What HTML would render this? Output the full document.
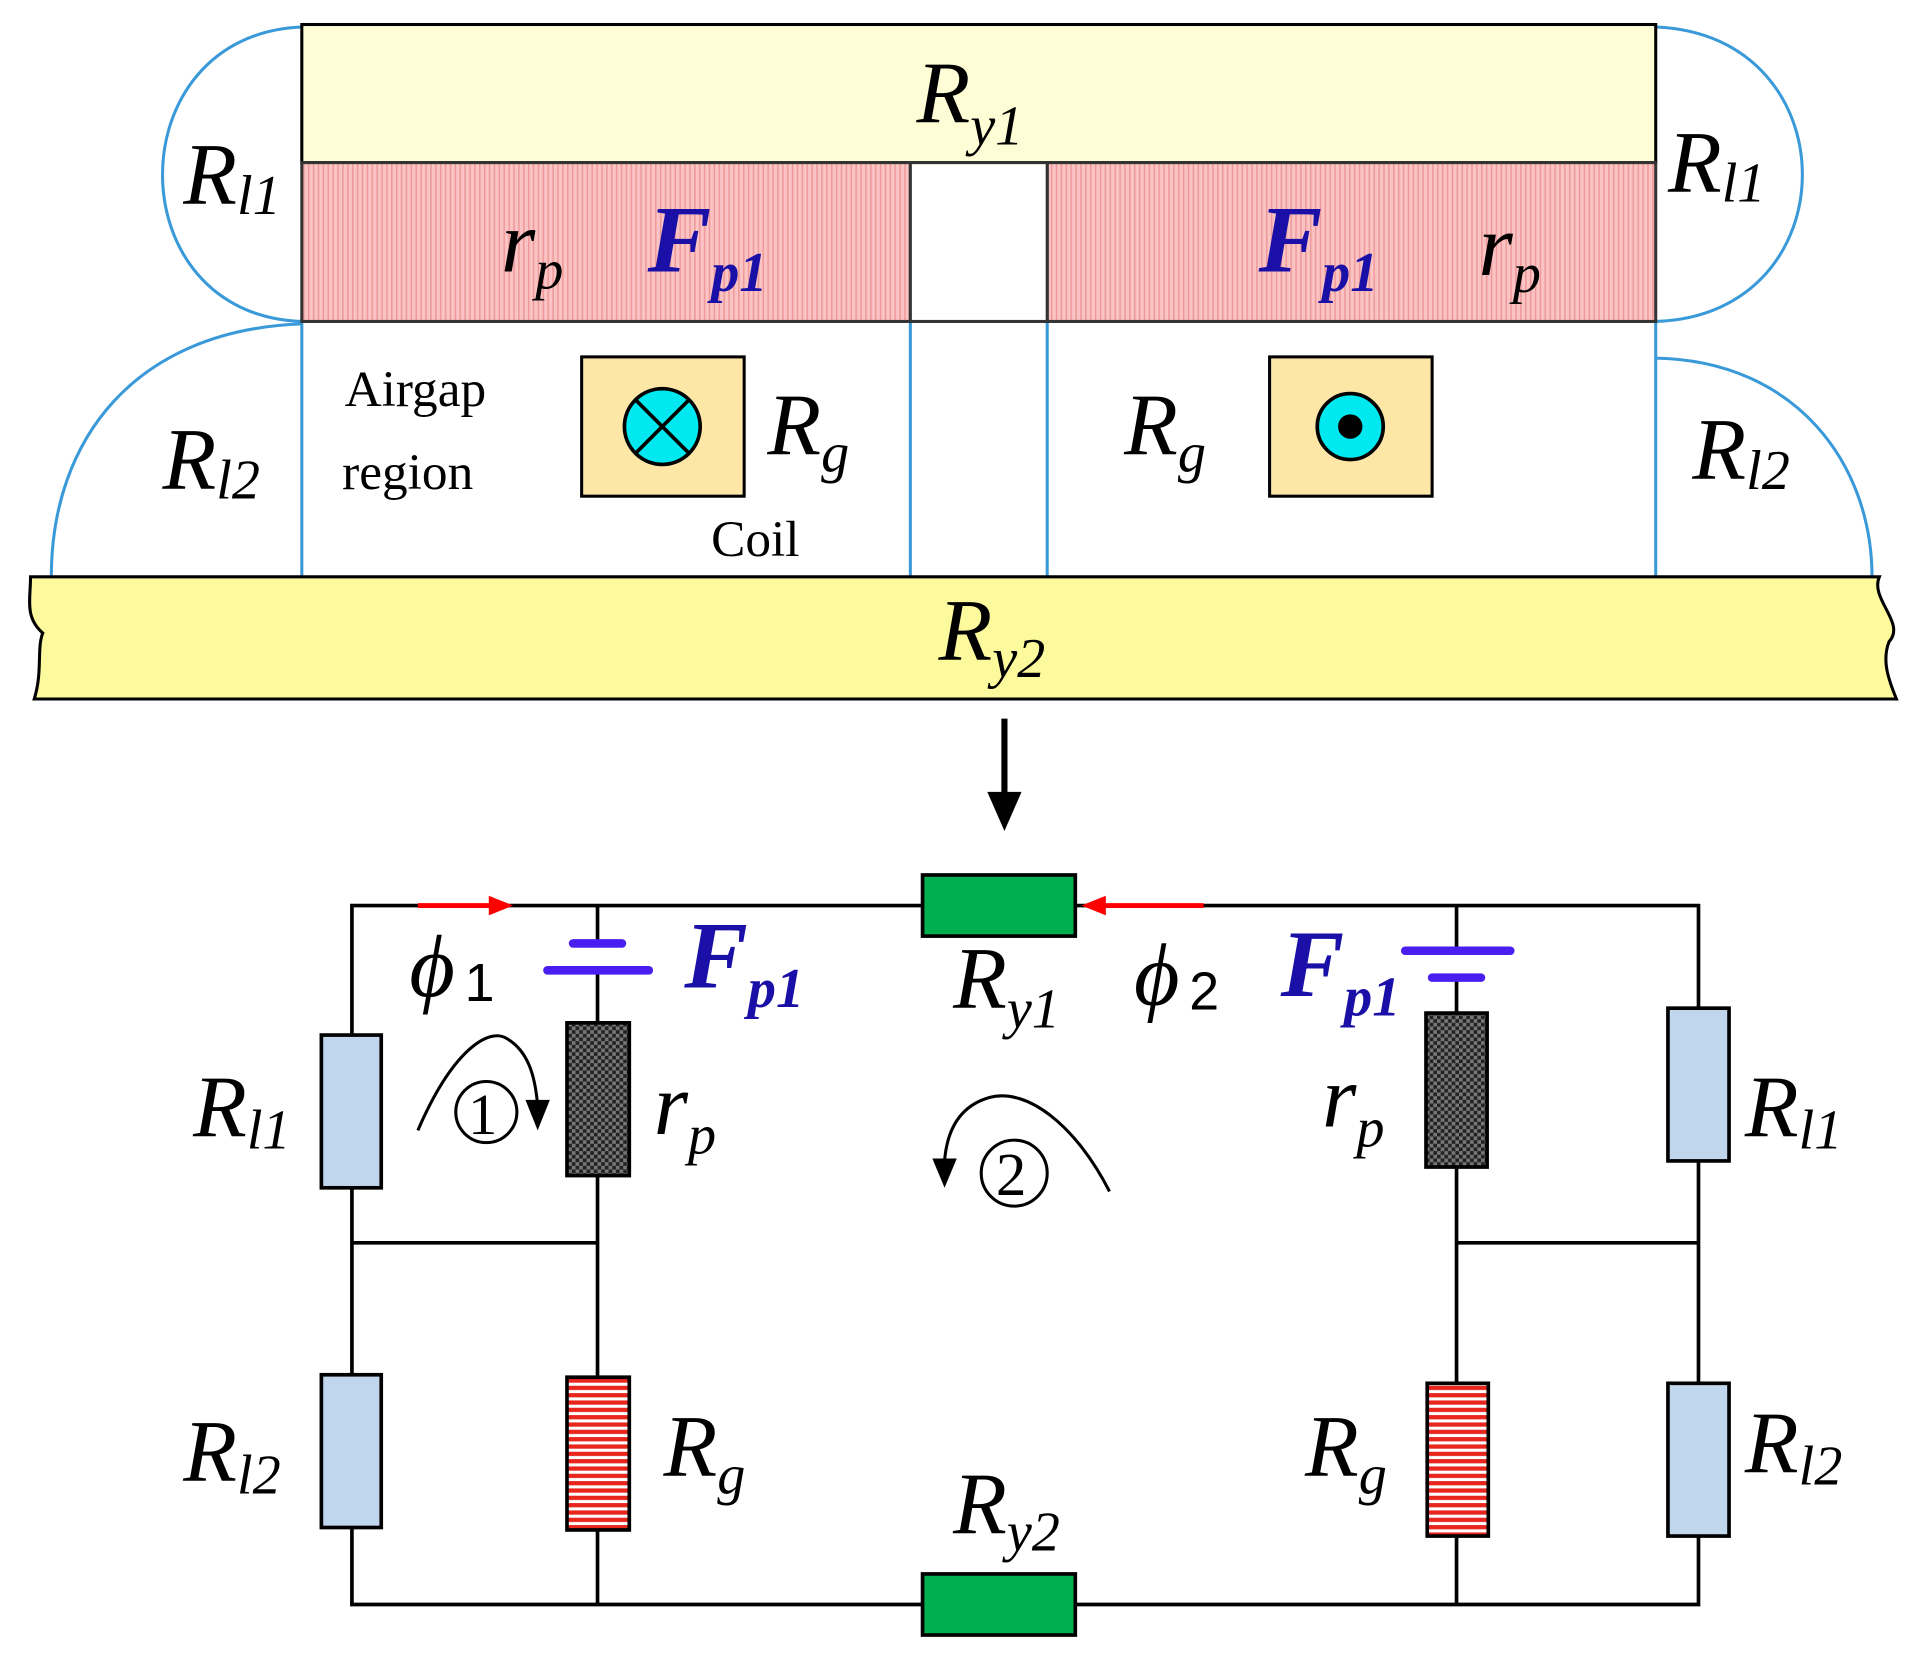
<!DOCTYPE html>
<html><head><meta charset="utf-8"><style>
html,body{margin:0;padding:0;background:#fff;}
svg{display:block;}
text{font-family:"Liberation Serif",serif;}
.L{font-style:italic;font-size:72px;fill:#000;}
.s{font-size:46px;}
.B{font-style:italic;font-weight:bold;font-size:78px;fill:#1a10a8;}
</style></head><body>
<svg width="1916" height="1662" viewBox="0 0 1568 1360" xmlns="http://www.w3.org/2000/svg">
<defs>
<pattern id="pink" width="4" height="4" patternUnits="userSpaceOnUse"><rect width="4" height="4" fill="#fbc4c4"/><rect width="1.3" height="4" fill="#ef9a9a"/></pattern>
<pattern id="chk" width="6" height="6" patternUnits="userSpaceOnUse"><rect width="6" height="6" fill="#222"/><rect width="3" height="3" fill="#777"/><rect x="3" y="3" width="3" height="3" fill="#777"/></pattern>
<pattern id="red" width="6" height="6" patternUnits="userSpaceOnUse"><rect width="6" height="6" fill="#fff"/><rect width="6" height="3.5" fill="#e8261e"/></pattern>
</defs>
<g fill="none" stroke="#3a9ad9" stroke-width="2.5">
<path d="M247,22 C95,28 95,258 247,263"/>
<path d="M1355,22 C1515,28 1515,258 1355,263"/>
<path d="M247,265 C110,270 42,360 42,472"/>
<path d="M1355,293 C1470,295 1532,380 1532,472"/>
<line x1="247" y1="263" x2="247" y2="472"/><line x1="745" y1="263" x2="745" y2="472"/>
<line x1="857" y1="263" x2="857" y2="472"/><line x1="1355" y1="263" x2="1355" y2="472"/>
</g>
<rect x="247" y="20" width="1108" height="113" fill="#fefdd6" stroke="#000" stroke-width="2.5"/>
<rect x="247" y="133" width="498" height="130" fill="url(#pink)" stroke="#333" stroke-width="2.5"/>
<rect x="857" y="133" width="498" height="130" fill="url(#pink)" stroke="#333" stroke-width="2.5"/>
<rect x="745" y="133" width="112" height="130" fill="#fff" stroke="#333" stroke-width="2.5"/>
<rect x="476" y="292" width="133" height="114" fill="#fde6a6" stroke="#000" stroke-width="2.5"/>
<circle cx="542" cy="349" r="31" fill="#00e8f0" stroke="#000" stroke-width="3"/>
<path d="M520,327 L564,371 M564,327 L520,371" stroke="#000" stroke-width="3"/>
<rect x="1039" y="292" width="133" height="114" fill="#fde6a6" stroke="#000" stroke-width="2.5"/>
<circle cx="1105" cy="349" r="27" fill="#00e8f0" stroke="#000" stroke-width="3"/>
<circle cx="1105" cy="349" r="10" fill="#000"/>
<path d="M25,472 L1538,472 C1530,490 1560,510 1546,525 C1540,540 1545,555 1552,572 L28,572 C35,550 30,530 35,518 C20,505 25,490 25,472 Z" fill="#fdfa9e" stroke="#000" stroke-width="2.5"/>
<text class="L" x="750" y="100">R<tspan class="s" dy="18">y1</tspan></text>
<text class="L" x="150" y="167">R<tspan class="s" dy="8">l1</tspan></text>
<text class="L" x="1365" y="157">R<tspan class="s" dy="8">l1</tspan></text>
<text class="L" x="410" y="222">r<tspan class="s" dy="14">p</tspan></text>
<text class="B" x="530" y="222">F<tspan class="s" dy="16">p1</tspan></text>
<text class="B" x="1030" y="222">F<tspan class="s" dy="16">p1</tspan></text>
<text class="L" x="1210" y="225">r<tspan class="s" dy="14">p</tspan></text>
<text class="L" x="133" y="400">R<tspan class="s" dy="8">l2</tspan></text>
<text class="L" x="1385" y="392">R<tspan class="s" dy="8">l2</tspan></text>
<text class="L" x="628" y="372">R<tspan class="s" dy="14">g</tspan></text>
<text class="L" x="920" y="372">R<tspan class="s" dy="14">g</tspan></text>
<text x="282" y="332" font-size="42">Airgap</text>
<text x="280" y="400" font-size="42">region</text>
<text x="582" y="455" font-size="42">Coil</text>
<text class="L" x="768" y="540">R<tspan class="s" dy="14">y2</tspan></text>
<line x1="822" y1="588" x2="822" y2="650" stroke="#000" stroke-width="5"/>
<path d="M808,648 L836,648 L822,680 Z" fill="#000"/>
<g stroke="#000" stroke-width="3" fill="none">
<path d="M288,741 H1390 V1313 H288 Z"/>
<line x1="489" y1="741" x2="489" y2="772"/>
<line x1="489" y1="794" x2="489" y2="1313"/>
<line x1="1192" y1="741" x2="1192" y2="778"/>
<line x1="1192" y1="800" x2="1192" y2="1313"/>
<line x1="288" y1="1017" x2="489" y2="1017"/>
<line x1="1192" y1="1017" x2="1390" y2="1017"/>
</g>
<g stroke="#4a1ef0" stroke-width="7" stroke-linecap="round">
<line x1="469" y1="772" x2="509" y2="772"/><line x1="448" y1="794" x2="531" y2="794"/>
<line x1="1150" y1="778" x2="1236" y2="778"/><line x1="1172" y1="800" x2="1212" y2="800"/>
</g>
<g fill="none" stroke="#000" stroke-width="3">
<rect x="755" y="716" width="125" height="50" fill="#00b050"/>
<rect x="755" y="1288" width="125" height="50" fill="#00b050"/>
<rect x="263" y="847" width="49" height="125" fill="#c0d6ec"/>
<rect x="263" y="1125" width="49" height="125" fill="#c0d6ec"/>
<rect x="1365" y="825" width="50" height="125" fill="#c0d6ec"/>
<rect x="1365" y="1132" width="50" height="125" fill="#c0d6ec"/>
<rect x="464" y="837" width="51" height="125" fill="url(#chk)"/>
<rect x="1167" y="829" width="50" height="126" fill="url(#chk)"/>
<rect x="464" y="1127" width="51" height="125" fill="url(#red)"/>
<rect x="1168" y="1132" width="50" height="125" fill="url(#red)"/>
</g>
<line x1="342" y1="741" x2="405" y2="741" stroke="#f00" stroke-width="4"/>
<path d="M400,733 L420,741 L400,749 Z" fill="#f00"/>
<line x1="900" y1="741" x2="985" y2="741" stroke="#f00" stroke-width="4"/>
<path d="M905,733 L885,741 L905,749 Z" fill="#f00"/>
<g fill="none" stroke="#000" stroke-width="2.5">
<path d="M342,925 C370,860 400,840 415,850 C432,860 438,880 440,905"/>
<circle cx="398" cy="910" r="25"/>
<path d="M908,975 C880,920 840,890 810,898 C785,905 775,925 773,950"/>
<circle cx="830" cy="960" r="27"/>
</g>
<path d="M430,900 L450,900 L440,925 Z" fill="#000"/>
<path d="M763,948 L783,948 L773,972 Z" fill="#000"/>
<text x="383" y="928" font-size="48">1</text>
<text x="815" y="978" font-size="50">2</text>
<text class="L" x="335" y="815">ϕ<tspan font-style="normal" font-family="Liberation Sans" font-size="44" dx="8" dy="4">1</tspan></text>
<text class="L" x="928" y="822">ϕ<tspan font-style="normal" font-family="Liberation Sans" font-size="44" dx="8" dy="4">2</tspan></text>
<text class="B" x="560" y="808">F<tspan class="s" dy="16">p1</tspan></text>
<text class="B" x="1048" y="815">F<tspan class="s" dy="16">p1</tspan></text>
<text class="L" x="780" y="825">R<tspan class="s" dy="16">y1</tspan></text>
<text class="L" x="158" y="930">R<tspan class="s" dy="10">l1</tspan></text>
<text class="L" x="1428" y="930">R<tspan class="s" dy="10">l1</tspan></text>
<text class="L" x="535" y="928">r<tspan class="s" dy="16">p</tspan></text>
<text class="L" x="1082" y="922">r<tspan class="s" dy="16">p</tspan></text>
<text class="L" x="150" y="1212">R<tspan class="s" dy="10">l2</tspan></text>
<text class="L" x="1428" y="1205">R<tspan class="s" dy="10">l2</tspan></text>
<text class="L" x="543" y="1208">R<tspan class="s" dy="14">g</tspan></text>
<text class="L" x="1068" y="1208">R<tspan class="s" dy="14">g</tspan></text>
<text class="L" x="780" y="1255">R<tspan class="s" dy="14">y2</tspan></text>
</svg>
</body></html>
